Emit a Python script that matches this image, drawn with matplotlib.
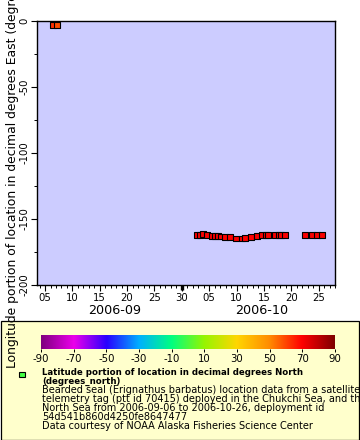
import matplotlib
matplotlib.use("Agg")
import matplotlib.pyplot as plt
import matplotlib.dates as mdates
import matplotlib.transforms as mtransforms
from matplotlib.colors import LinearSegmentedColormap, Normalize
from matplotlib.patches import Rectangle
import pandas as pd
import numpy as np

plt.rcParams["font.family"] = ["DejaVu Sans"]
plt.rcParams["axes.unicode_minus"] = False

# ---- data ----
times = [
    "2006-09-06 10:00", "2006-09-07 03:00",
    "2006-10-02 19:00", "2006-10-03 08:00", "2006-10-03 21:00", "2006-10-04 15:00",
    "2006-10-05 13:00", "2006-10-06 02:00", "2006-10-06 15:00", "2006-10-07 04:00",
    "2006-10-07 22:00", "2006-10-08 20:00", "2006-10-09 22:00", "2006-10-11 00:00",
    "2006-10-11 14:00", "2006-10-12 16:00", "2006-10-13 18:00", "2006-10-14 16:00",
    "2006-10-15 10:00", "2006-10-15 18:00", "2006-10-17 01:00", "2006-10-17 19:00",
    "2006-10-18 04:00", "2006-10-18 21:00", "2006-10-22 13:00", "2006-10-23 19:00",
    "2006-10-24 17:00", "2006-10-25 14:00",
]
longitude = [
    -3.3, -3.5,
    -162.3, -162.0, -161.4, -162.5,
    -163.0, -163.2, -163.2, -163.3,
    -163.6, -164.0, -164.8, -164.8,
    -164.3, -163.5, -162.8, -162.5,
    -162.1, -162.1, -162.0, -162.0,
    -162.1, -162.1, -162.1, -162.1,
    -162.0, -162.1,
]
latitude = [
    63.0, 58.5,
    70.5, 70.6, 70.8, 70.7,
    70.6, 70.5, 70.4, 70.4,
    70.3, 70.2, 70.0, 70.0,
    70.1, 70.3, 70.5, 70.6,
    70.8, 70.8, 70.9, 70.9,
    70.8, 70.8, 70.9, 70.9,
    70.8, 70.8,
]
cbar_ticks = [-90, -70, -50, -30, -10, 10, 30, 50, 70, 90]
month_labels = ["2006-09", "2006-10"]
legend_bold = ["Latitude portion of location in decimal degrees North",
               "(degrees_north)"]
legend_lines = [
    "Bearded seal (Erignathus barbatus) location data from a satellite",
    "telemetry tag (ptt id 70415) deployed in the Chukchi Sea, and the",
    "North Sea from 2006-09-06 to 2006-10-26, deployment id",
    "54d541b860d4250fe8647477",
    "Data courtesy of NOAA Alaska Fisheries Science Center",
]
ylabel = "Longitude portion of location in decimal degrees East (degrees_east)"

t = pd.to_datetime(times)

# ---- colormap (ERDDAP-like rainbow) ----
cmap_colors = [
    (128/255, 0, 128/255), (235/255, 0, 235/255), (40/255, 0, 255/255),
    (0, 176/255, 255/255), (0, 255/255, 128/255), (150/255, 245/255, 0),
    (255/255, 214/255, 0), (255/255, 140/255, 0), (255/255, 0, 0),
    (128/255, 0, 0),
]
cmap = LinearSegmentedColormap.from_list("erddap_rainbow", cmap_colors)
norm = Normalize(-90, 90)

W, H = 360, 440
fig = plt.figure(figsize=(W/100, H/100), dpi=100)
fig.patch.set_facecolor("white")

# legend panel (behind everything)
fig.patches.append(Rectangle((0.5/W, 0.5/H), (W-1.5)/W, 119/H,
                             transform=fig.transFigure, facecolor="#ffffcc",
                             edgecolor="black", linewidth=0.9, zorder=-5))

ax = fig.add_axes([37.3/W, 1-285/H, 297.7/W, 264.3/H])
ax.set_facecolor("#ccccff")
ax.scatter(t, longitude, c=latitude, cmap=cmap, norm=norm, marker="s",
           s=18, edgecolors="black", linewidths=0.8, zorder=3)

ax.set_ylim(-200, 0)
ax.set_xlim(pd.Timestamp("2006-09-03 14:00"), pd.Timestamp("2006-10-28 00:00"))
ax.set_yticks([0, -50, -100, -150, -200])
ax.set_yticks(np.arange(-200, 1, 25), minor=True)
ax.xaxis.set_major_locator(mdates.DayLocator(bymonthday=[5, 10, 15, 20, 25, 30]))
ax.xaxis.set_major_formatter(mdates.DateFormatter("%d"))
ax.xaxis.set_minor_locator(mdates.DayLocator())
ax.tick_params(axis="both", which="major", length=4, width=0.8, labelsize=7.3,
               direction="out", pad=1.5)
ax.tick_params(axis="both", which="minor", length=2, width=0.7, direction="out")
for lab in ax.get_yticklabels():
    lab.set_rotation(90)
    lab.set_va("center")
for sp in ax.spines.values():
    sp.set_linewidth(1.0)

# month boundary tick
trans = mtransforms.blended_transform_factory(ax.transData, ax.transAxes)
ax.plot([pd.Timestamp("2006-09-30"), pd.Timestamp("2006-09-30")], [0, -0.02],
        transform=trans, color="black", lw=2.4, clip_on=False, solid_capstyle="butt")

# month labels centered on visible portions
ax.text(pd.Timestamp("2006-09-17 18:00"), -0.095, month_labels[0], transform=trans,
        ha="center", va="center", fontsize=9.2)
ax.text(pd.Timestamp("2006-10-14 14:00"), -0.095, month_labels[1], transform=trans,
        ha="center", va="center", fontsize=9.2)

fig.text(12.5/W, 1-368/H, ylabel, rotation=90, ha="center", va="bottom",
         fontsize=8.9, zorder=5)

# colorbar
cax = fig.add_axes([41/W, 1-349/H, 294/W, 14/H])
grad = np.linspace(-90, 90, 512).reshape(1, -1)
cax.imshow(grad, aspect="auto", cmap=cmap, norm=norm, extent=[-90, 90, 0, 1])
cax.set_xlim(-90, 90)
cax.set_yticks([])
cax.set_xticks(cbar_ticks)
cax.tick_params(axis="x", length=2.5, width=0.7, labelsize=7.3, pad=1)
for sp in cax.spines.values():
    sp.set_visible(False)

# legend marker and text
fig.patches.append(Rectangle((19/W, 1-377/H), 6/W, 5/H, transform=fig.transFigure,
                             facecolor="#44ff44", edgecolor="black", linewidth=0.8))
ys_bold = [372.7, 381.7]
for s, y in zip(legend_bold, ys_bold):
    fig.text(42/W, 1-y/H, s, ha="left", va="center", fontsize=6.25, fontweight="bold")
ys = [390.3, 399.0, 408.0, 417.0, 426.2]
for s, y in zip(legend_lines, ys):
    fig.text(42/W, 1-y/H, s, ha="left", va="center", fontsize=7.0)

fig.savefig("out.png", dpi=100)
